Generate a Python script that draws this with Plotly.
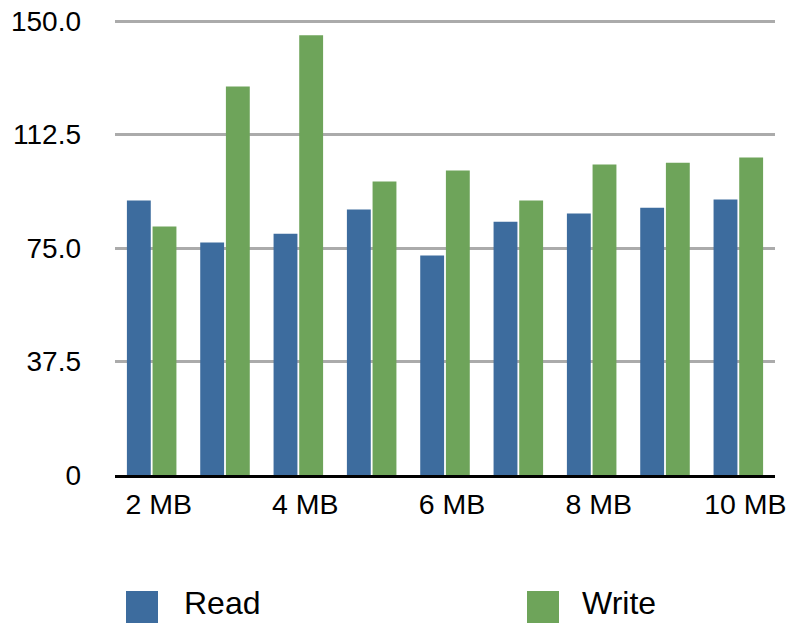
import plotly.graph_objects as go

# data
sizes = ["2 MB", "3 MB", "4 MB", "5 MB", "6 MB", "7 MB", "8 MB", "9 MB", "10 MB"]
read_vals = [90.7, 76.8, 79.7, 87.7, 72.5, 83.7, 86.4, 88.3, 91.0]
write_vals = [82.1, 128.4, 145.3, 97.0, 100.6, 90.7, 102.6, 103.2, 104.9]
shown_ticks = ["2 MB", "4 MB", "6 MB", "8 MB", "10 MB"]
y_ticks = [0, 37.5, 75, 112.5, 150]
y_labels = ["0", "37.5", "75.0", "112.5", "150.0"]

BLUE = "#3D6C9E"
GREEN = "#6EA45A"
FONT = "Liberation Sans, Arial, Helvetica, sans-serif"

fig = go.Figure()
fig.add_trace(go.Bar(x=sizes, y=read_vals, name="Read", marker_color=BLUE,
                     marker_line_width=0, showlegend=False))
fig.add_trace(go.Bar(x=sizes, y=write_vals, name="Write", marker_color=GREEN,
                     marker_line_width=0, showlegend=False))

# plot area: x 115..775, y 18..475 (range 0..151 so the 150 grid line shows)
fig.update_layout(
    width=789, height=624, autosize=False,
    margin=dict(l=115, r=14, t=18, b=149, pad=0),
    paper_bgcolor="white", plot_bgcolor="white",
    barmode="group", bargap=0.3, bargroupgap=0.07,
    font=dict(family=FONT, color="black"),
)
fig.update_xaxes(
    type="category", categoryorder="array", categoryarray=sizes,
    tickmode="array", tickvals=shown_ticks, ticktext=shown_ticks,
    tickfont=dict(size=28.5), ticks="", ticklabelstandoff=2, ticklabelshift=7,
    showline=True, linecolor="black", linewidth=2.5, showgrid=False,
    automargin=False,
)
fig.update_yaxes(
    range=[0, 151], tickmode="array", tickvals=y_ticks, ticktext=y_labels,
    tickfont=dict(size=28), ticks="", ticklabelstandoff=33,
    showgrid=True, gridcolor="#ABABAB", gridwidth=2.5,
    zeroline=False, showline=False, automargin=False,
)

# legend drawn by hand so the swatches can be large squares
def px_x(p):
    return (p - 115) / 660

def px_y(p):
    return (475 - p) / 457

legend_items = [("Read", BLUE, 126, 183), ("Write", GREEN, 527, 581)]
for label, color, sx, tx in legend_items:
    fig.add_shape(type="rect", xref="paper", yref="paper",
                  x0=px_x(sx), x1=px_x(sx + 32), y0=px_y(591), y1=px_y(623),
                  fillcolor=color, line_width=0)
    fig.add_annotation(text=label, xref="paper", yref="paper",
                       x=px_x(tx), y=px_y(603), xanchor="left", yanchor="middle",
                       showarrow=False, borderpad=0,
                       font=dict(size=32, color="black"))

fig.write_html(
    "out.html",
    config={"responsive": False, "displayModeBar": False},
    post_script="document.body.style.margin='0';document.body.style.overflow='hidden';",
)
